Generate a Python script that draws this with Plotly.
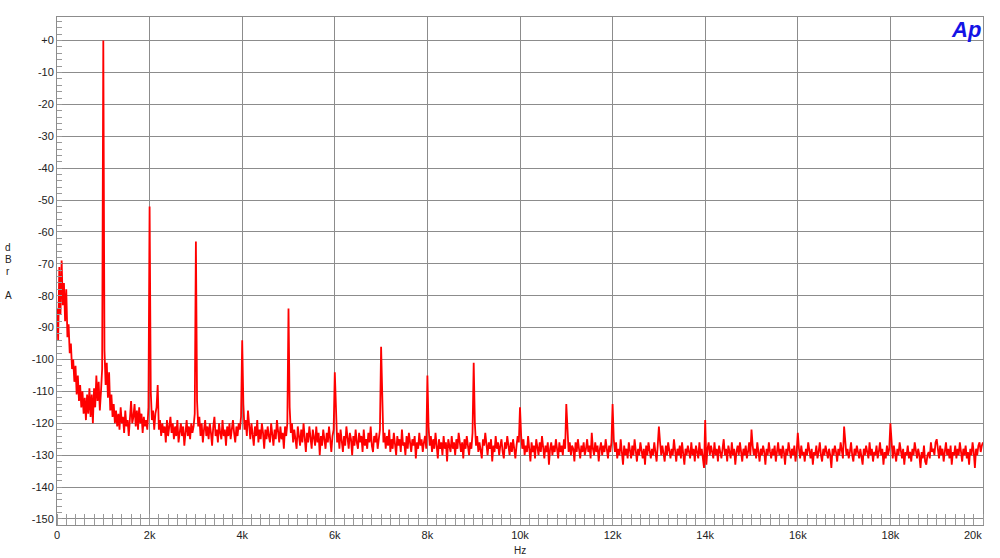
import plotly.graph_objects as go

# FFT spectrum, one row per kHz band (25 Hz bins), dBr A
bin_hz = 25
band_rows = [
    [-84, -94, -71, -86, -69, -83, -76, -88, -78, -93, -89, -98, -95, -103, -100, -107, -102, -111, -105, -113,
     -108, -115, -110, -117, -112, -119, -111, -117, -109, -118, -111, -120, -109, -115, -105, -113, -107, -116, -110, -103],
    [0, -97, -108, -101, -112, -104, -116, -111, -118, -114, -120, -116, -121, -117, -122, -115, -120, -118, -123, -116,
     -121, -119, -124, -117, -113, -120, -118, -114, -121, -116, -122, -115, -120, -117, -123, -118, -121, -119, -122, -115],
    [-52, -110, -119, -116, -122, -117, -115, -108, -122, -119, -124, -120, -123, -121, -126, -119, -124, -121, -118, -123,
     -120, -125, -121, -124, -119, -126, -122, -120, -124, -121, -127, -122, -119, -124, -121, -125, -120, -123, -121, -117],
    [-63, -113, -121, -118, -124, -120, -126, -122, -119, -124, -121, -125, -120, -123, -127, -121, -118, -124, -122, -126,
     -120, -123, -125, -119, -124, -122, -127, -121, -124, -120, -125, -122, -119, -123, -126, -121, -124, -120, -122, -118],
    [-94, -114, -122, -119, -124, -116, -121, -125, -120, -123, -127, -121, -124, -119, -126, -122, -125, -120, -123, -128,
     -122, -125, -121, -124, -126, -120, -123, -127, -122, -125, -119, -124, -126, -121, -125, -123, -128, -121, -124, -120],
    [-84, -115, -123, -120, -126, -122, -125, -128, -121, -124, -127, -122, -126, -120, -125, -129, -123, -126, -121, -125,
     -128, -122, -124, -127, -121, -126, -123, -130, -124, -127, -122, -125, -128, -123, -126, -121, -125, -129, -124, -122],
    [-104, -120, -126, -123, -128, -122, -125, -129, -124, -127, -121, -126, -128, -123, -125, -130, -124, -127, -122, -126,
     -128, -123, -126, -124, -129, -122, -127, -125, -128, -123, -126, -121, -127, -129, -124, -126, -123, -128, -125, -122],
    [-96, -118, -126, -123, -128, -124, -127, -122, -129, -125, -128, -123, -126, -130, -124, -127, -125, -129, -122, -127,
     -126, -130, -124, -128, -123, -126, -129, -125, -127, -124, -131, -126, -128, -123, -127, -125, -129, -126, -124, -128],
    [-105, -121, -127, -124, -129, -125, -128, -123, -127, -131, -125, -128, -126, -130, -124, -128, -126, -132, -125, -127,
     -129, -124, -128, -126, -130, -125, -128, -123, -127, -129, -126, -131, -125, -128, -124, -127, -130, -126, -128, -123],
    [-101, -120, -127, -124, -129, -126, -128, -131, -125, -127, -123, -128, -130, -126, -128, -125, -132, -127, -129, -124,
     -128, -126, -130, -127, -125, -129, -131, -126, -128, -124, -127, -130, -126, -129, -125, -128, -131, -127, -124, -126],
    [-115, -124, -128, -125, -130, -127, -129, -124, -128, -132, -126, -129, -127, -131, -125, -128, -130, -126, -129, -124,
     -128, -131, -127, -129, -126, -133, -128, -126, -130, -127, -129, -125, -128, -131, -126, -129, -127, -130, -125, -128],
    [-114, -124, -129, -126, -130, -127, -128, -132, -126, -129, -125, -128, -131, -127, -129, -126, -130, -128, -125, -129,
     -127, -131, -123, -128, -130, -126, -129, -127, -132, -128, -126, -130, -127, -129, -125, -128, -131, -127, -129, -126],
    [-114, -125, -129, -126, -131, -128, -130, -125, -129, -133, -127, -130, -128, -131, -126, -129, -131, -127, -130, -125,
     -129, -132, -128, -130, -126, -129, -131, -128, -133, -127, -130, -126, -129, -131, -128, -130, -126, -129, -132, -127],
    [-121, -126, -130, -127, -129, -132, -127, -130, -126, -129, -131, -128, -130, -125, -129, -132, -128, -130, -127, -131,
     -126, -129, -133, -128, -130, -127, -129, -131, -126, -130, -128, -132, -127, -129, -131, -126, -130, -128, -131, -134],
    [-119, -133, -128, -126, -130, -127, -129, -131, -126, -130, -128, -132, -127, -129, -131, -128, -125, -130, -128, -132,
     -127, -129, -131, -126, -130, -128, -133, -129, -127, -130, -126, -129, -132, -128, -130, -127, -131, -129, -126, -130],
    [-122, -127, -130, -128, -131, -126, -129, -132, -128, -130, -127, -129, -133, -128, -130, -126, -129, -131, -128, -130,
     -127, -132, -129, -126, -130, -128, -131, -127, -129, -133, -128, -130, -126, -129, -131, -128, -130, -127, -132, -129],
    [-123, -128, -131, -127, -130, -129, -132, -128, -130, -126, -129, -131, -128, -133, -129, -130, -127, -131, -129, -126,
     -130, -132, -128, -130, -127, -129, -131, -128, -130, -134, -128, -130, -127, -129, -132, -128, -130, -126, -129, -131],
    [-121, -127, -130, -128, -131, -129, -126, -130, -132, -128, -130, -127, -129, -131, -128, -130, -133, -128, -130, -127,
     -129, -131, -126, -130, -128, -132, -129, -130, -127, -131, -129, -126, -130, -128, -133, -129, -131, -127, -130, -128],
    [-120, -128, -131, -127, -130, -132, -128, -130, -126, -129, -131, -128, -133, -129, -130, -127, -131, -129, -132, -128,
     -130, -126, -129, -131, -128, -130, -134, -129, -131, -127, -132, -133, -130, -129, -131, -126, -129, -128, -130, -126],
    [-125, -129, -131, -127, -130, -128, -132, -129, -126, -130, -128, -131, -127, -133, -129, -130, -127, -131, -128, -130,
     -126, -129, -132, -128, -130, -127, -131, -129, -133, -128, -130, -126, -129, -134, -128, -130, -127, -126, -129, -127],
    [-126],
]

y_tick_vals = [0, -10, -20, -30, -40, -50, -60, -70, -80, -90, -100, -110, -120, -130, -140, -150]
y_tick_text = ["+0", "-10", "-20", "-30", "-40", "-50", "-60", "-70", "-80", "-90", "-100", "-110", "-120", "-130", "-140", "-150"]
x_tick_vals = [0, 2000, 4000, 6000, 8000, 10000, 12000, 14000, 16000, 18000]
x_tick_text = ["0", "2k", "4k", "6k", "8k", "10k", "12k", "14k", "16k", "18k"]

freqs, levels = [], []
for k, row in enumerate(band_rows):
    for i, v in enumerate(row):
        freqs.append(k * 1000 + i * bin_hz)
        levels.append(v)

fig = go.Figure()
fig.add_trace(go.Scatter(x=freqs, y=levels, mode="lines",
                         line=dict(color="#ff0000", width=1.8), hoverinfo="x+y"))

grid = "#8c8c8c"
font = "Liberation Sans, Arial, sans-serif"
fig.update_layout(
    width=1000, height=558,
    margin=dict(l=57, r=17, t=17, b=33),
    paper_bgcolor="white", plot_bgcolor="white",
    showlegend=False,
    font=dict(family=font, size=11, color="#222"),
    xaxis=dict(range=[0, 20000], tickvals=x_tick_vals, ticktext=x_tick_text,
               showgrid=True, gridcolor=grid, gridwidth=1, zeroline=False,
               showline=True, mirror=True, linecolor=grid, linewidth=1,
               ticks="", tickfont=dict(size=11, family=font, color="#222"),
               minor=dict(dtick=200, ticks="inside", ticklen=11, tickcolor="#9a9a9a", tickwidth=1, showgrid=False)),
    yaxis=dict(range=[-151.9, 7.4], tickvals=y_tick_vals, ticktext=y_tick_text,
               showgrid=True, gridcolor=grid, gridwidth=1, zeroline=False,
               showline=True, mirror=True, linecolor=grid, linewidth=1,
               ticks="", ticklabelstandoff=0, tickfont=dict(size=11, family=font, color="#222"),
               minor=dict(dtick=2, ticks="inside", ticklen=5, tickcolor="#9a9a9a", tickwidth=1, showgrid=False)),
)

# axis titles (positions relative to the plot area, which spans 57..983 x 17..525 on screen)
def px(xpix):
    return (xpix - 57) / 926.0

def py(ypix):
    return (525 - ypix) / 508.0

for letter, ypix in [("d", 247), ("B", 259), ("r", 271), ("A", 295)]:
    fig.add_annotation(text=letter, xref="paper", yref="paper",
                       x=px(8), y=py(ypix), showarrow=False,
                       xanchor="center", yanchor="middle",
                       font=dict(family=font, size=10, color="#222"))
fig.add_annotation(text="Hz", xref="paper", yref="paper", x=px(520), y=py(550),
                   showarrow=False, xanchor="center", yanchor="middle",
                   font=dict(family=font, size=10, color="#222"))
fig.add_annotation(text="20k", xref="paper", yref="paper", x=px(973), y=py(535),
                   showarrow=False, xanchor="center", yanchor="middle",
                   font=dict(family=font, size=11, color="#222"))
fig.add_annotation(text="<b><i>Ap</i></b>", xref="paper", yref="paper", x=px(983), y=py(30),
                   showarrow=False, xanchor="right", yanchor="middle",
                   font=dict(family=font, size=22, color="#1414e6"))

fig.write_html("out.html", config={"displayModeBar": False},
               post_script="document.body.style.margin='0px';")
